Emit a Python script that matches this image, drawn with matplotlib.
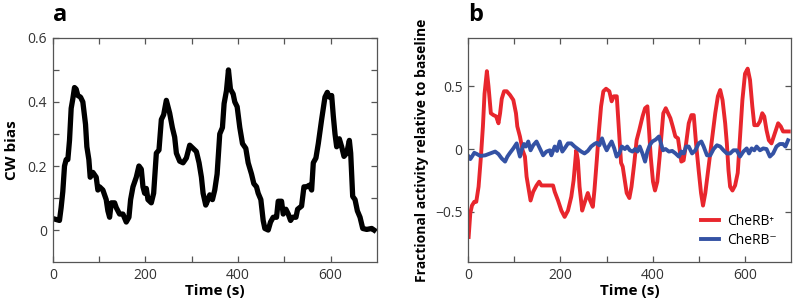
import numpy as np
import matplotlib
matplotlib.use("Agg")
import matplotlib.pyplot as plt

plt.rcParams["font.family"] = ["Open Sans", "DejaVu Sans"]

# ── data ────────────────────────────────────────────────────────────────────
# panel a: CW bias vs time
t_cw = [0, 14.4, 18, 21.6, 25.3, 28.9, 32.5, 36.1, 39.7, 43.3, 46.9, 50.5, 54.1,
        59.9, 64.9, 70.7, 73.6, 77.9, 80.8, 86.6, 93.8, 97.4, 101, 108.2, 115.4,
        119, 122.7, 126.3, 133.5, 137.1, 144.3, 151.5, 158.7, 164.5, 168.1, 173.2,
        180.4, 186.1, 191.2, 194.8, 198.4, 202, 205.6, 212.8, 217.9, 223.7, 229.4,
        234.5, 239.5, 245.3, 252.5, 258.3, 263.3, 267, 274.2, 281.4, 288.6, 295.8,
        303, 310.2, 316, 321.1, 324.7, 330.4, 335.5, 339.1, 344.9, 349.9, 355,
        360.7, 366.5, 370.1, 375.2, 379.5, 383.8, 389.6, 393.2, 398.3, 404, 409.8,
        417, 422.1, 429.3, 434.3, 440.1, 443.7, 449.5, 454.5, 458.1, 465.4, 470.4,
        476.2, 483.4, 487, 494.2, 497.8, 503.6, 508.7, 513.7, 518, 525.3, 528.9,
        537.5, 542.6, 548.3, 554.1, 559.2, 562.8, 568.5, 573.6, 580.8, 588, 593.1,
        597.4, 602.5, 606.1, 609.7, 613.3, 619, 624.1, 629.1, 634.9, 638.5, 640.7,
        643.6, 647.9, 653, 658, 663.8, 669.6, 678.2, 689, 694]
cw_bias = [0.036, 0.03, 0.07, 0.12, 0.2, 0.22, 0.22, 0.28, 0.38, 0.41, 0.445, 0.44,
           0.42, 0.415, 0.40, 0.33, 0.26, 0.22, 0.165, 0.18, 0.165, 0.125, 0.135,
           0.125, 0.095, 0.06, 0.04, 0.085, 0.085, 0.07, 0.05, 0.05, 0.025, 0.04,
           0.095, 0.135, 0.165, 0.2, 0.19, 0.135, 0.115, 0.13, 0.095, 0.085, 0.115,
           0.24, 0.25, 0.345, 0.36, 0.405, 0.365, 0.32, 0.29, 0.24, 0.215, 0.21,
           0.225, 0.265, 0.255, 0.245, 0.21, 0.165, 0.115, 0.078, 0.095, 0.11,
           0.095, 0.125, 0.175, 0.30, 0.32, 0.395, 0.435, 0.5, 0.44, 0.425, 0.40,
           0.385, 0.32, 0.27, 0.255, 0.21, 0.175, 0.145, 0.135, 0.115, 0.095, 0.03,
           0.005, 0.0, 0.025, 0.04, 0.04, 0.09, 0.09, 0.05, 0.065, 0.05, 0.03, 0.04,
           0.04, 0.065, 0.075, 0.135, 0.135, 0.14, 0.125, 0.21, 0.225, 0.27, 0.345,
           0.415, 0.43, 0.415, 0.42, 0.355, 0.30, 0.26, 0.285, 0.26, 0.23, 0.24,
           0.265, 0.28, 0.24, 0.105, 0.095, 0.06, 0.04, 0.005, 0.002, 0.005, 0.0]

# panel b: CheRB+ (red)
t_plus = [1.4, 5, 8.6, 13.6, 17.9, 22.9, 28, 32.3, 35.8, 40.9, 44.4, 49.5, 55.2,
          60.9, 66, 69.5, 73.1, 78.1, 83.9, 91, 98.2, 103.9, 106.8, 112.5, 118.3,
          123.3, 126.9, 130.5, 135.5, 141.2, 148.4, 154.1, 159.1, 169.9, 184.2,
          187.8, 195, 202.2, 209.3, 216.5, 223.7, 228.7, 234.4, 238, 241.6, 247.3,
          252.3, 259.5, 264.5, 270.3, 273.8, 278.9, 283.2, 288.2, 293.2, 299, 306.1,
          311.1, 315.8, 322.2, 326.5, 331.5, 335.1, 340.1, 343.7, 349.5, 354.1,
          360.2, 365.2, 370.9, 378.1, 383.5, 388.5, 392.1, 395.7, 400.7, 405, 410,
          415.1, 419.4, 423, 428.3, 433.3, 438.4, 443.4, 449.1, 454.8, 458.4, 462,
          467, 472.4, 478.1, 483.9, 488.9, 493.9, 499.6, 504.7, 509, 514, 521.1,
          528.3, 535.5, 541.2, 546.2, 551.3, 557, 560.6, 564.2, 567.7, 572.8, 578.5,
          584.2, 589.2, 594.3, 600, 605.7, 610.8, 615.8, 620.1, 627.2, 632.3, 637.3,
          641.6, 646.6, 651.6, 657.3, 664.5, 671.7, 677.4, 682.4, 689.6, 694.6]
act_plus = [-0.70, -0.51, -0.45, -0.42, -0.42, -0.30, -0.06, 0.18, 0.44, 0.62, 0.50,
            0.285, 0.27, 0.26, 0.205, 0.285, 0.40, 0.46, 0.46, 0.43, 0.39, 0.285,
            0.18, 0.10, -0.01, -0.06, -0.22, -0.30, -0.41, -0.34, -0.29, -0.26,
            -0.29, -0.29, -0.29, -0.34, -0.41, -0.49, -0.54, -0.49, -0.38, -0.25,
            -0.01, -0.09, -0.30, -0.49, -0.43, -0.35, -0.41, -0.46, -0.33, -0.09,
            0.125, 0.34, 0.46, 0.48, 0.46, 0.38, 0.42, 0.42, 0.18, -0.11, -0.14,
            -0.26, -0.35, -0.39, -0.30, -0.11, 0.07, 0.15, 0.26, 0.325, 0.34, 0.15,
            -0.06, -0.26, -0.33, -0.26, -0.06, 0.125, 0.285, 0.325, 0.285, 0.245,
            0.18, 0.10, 0.085, -0.01, -0.10, -0.09, 0.045, 0.205, 0.27, 0.27, 0.045,
            -0.17, -0.35, -0.45, -0.35, -0.14, 0.07, 0.285, 0.42, 0.47, 0.39, 0.205,
            0.045, -0.17, -0.30, -0.33, -0.29, -0.19, 0.10, 0.39, 0.60, 0.64, 0.55,
            0.34, 0.19, 0.19, 0.22, 0.285, 0.26, 0.15, 0.07, 0.045, 0.125, 0.205,
            0.18, 0.14, 0.14, 0.14]

# panel b: CheRB- (blue)
t_minus = [1.4, 5, 8.6, 13.6, 19.4, 26.5, 37.3, 48, 58.8, 66, 73.1, 80.3, 85.3, 91,
           98.2, 105.4, 109, 112.5, 116.1, 121.1, 125.4, 130.5, 135.5, 141.2, 148.4,
           155.6, 162.7, 169.9, 177.1, 180.6, 187.8, 192.8, 198.6, 204.3, 209.3,
           216.5, 223.7, 230.8, 238, 245.2, 252.3, 259.5, 266.7, 273.8, 278.9, 284.6,
           290.3, 295.3, 300.4, 306.1, 311.1, 316.8, 321.9, 327.6, 333.3, 339.8,
           344.8, 350.5, 356.3, 362, 367, 372, 377.8, 383.5, 388.5, 393.5, 399.3,
           406.5, 413.6, 417.9, 422.2, 428, 435.1, 442.3, 449.5, 456.6, 462.4, 467.4,
           472.4, 478.1, 485.3, 492.5, 499.6, 505.4, 510.4, 517.6, 524.7, 531.9,
           539.1, 546.2, 553.4, 560.6, 567.7, 574.9, 582.1, 589.2, 596.4, 603.6,
           608.6, 614.3, 620.1, 625.1, 632.3, 639.4, 646.6, 653.8, 660.9, 668.1,
           675.3, 682.4, 687.5, 693.2]
act_minus = [-0.06, -0.08, -0.06, -0.03, -0.04, -0.055, -0.05, -0.035, -0.02, -0.04,
             -0.075, -0.10, -0.06, -0.03, 0.005, 0.045, -0.01, -0.06, -0.01, 0.04,
             0.02, 0.06, -0.01, 0.03, 0.06, 0.005, -0.05, -0.02, -0.01, -0.05, 0.02,
             -0.015, 0.06, -0.02, 0.005, 0.045, 0.045, 0.02, 0.0, -0.02, -0.035,
             -0.015, 0.02, 0.04, 0.05, 0.03, 0.085, 0.03, -0.01, 0.03, 0.06, 0.005,
             -0.06, -0.035, 0.02, 0.0, 0.02, -0.01, -0.02, 0.0, -0.02, 0.02, -0.035,
             -0.10, -0.02, 0.03, 0.06, 0.075, 0.10, 0.045, -0.01, 0.0, -0.02, -0.015,
             -0.035, -0.06, -0.02, -0.035, 0.02, 0.02, -0.035, -0.01, 0.045, 0.06,
             0.02, -0.05, -0.05, 0.0, 0.03, 0.02, -0.01, -0.035, -0.035, -0.01,
             -0.01, -0.06, -0.02, 0.005, -0.035, 0.005, -0.01, 0.02, -0.01, 0.005,
             0.0, -0.06, -0.035, 0.02, 0.04, 0.04, 0.02, 0.07]

legend_labels = ["CheRB\u207a", "CheRB\u207b"]

# ── figure ──────────────────────────────────────────────────────────────────
fig = plt.figure(figsize=(8, 3.03), dpi=100)
ax_a = fig.add_axes([0.066, 0.135, 0.405, 0.74])
ax_b = fig.add_axes([0.585, 0.135, 0.404, 0.74])

spine_col = "#555555"
for ax in (ax_a, ax_b):
    for s in ax.spines.values():
        s.set_color(spine_col)
        s.set_linewidth(0.9)
    ax.tick_params(direction="in", top=True, right=True, length=4.5, width=0.9,
                   color=spine_col, labelsize=10, labelcolor="#333333", pad=4)

# panel a
ax_a.plot(t_cw, cw_bias, color="black", linewidth=3.8, solid_joinstyle="round")
ax_a.set_xlim(0, 700)
ax_a.set_ylim(-0.1, 0.6)
ax_a.set_xticks(np.arange(0, 700, 100))
ax_a.set_xticklabels(["0", "", "200", "", "400", "", "600"])
ax_a.set_yticks(np.arange(0, 0.61, 0.1))
ax_a.set_yticklabels(["0", "", "0.2", "", "0.4", "", "0.6"])
ax_a.set_xlabel("Time (s)", fontsize=11, fontweight="bold", labelpad=1)
ax_a.set_ylabel("CW bias", fontsize=11, fontweight="bold", labelpad=6)

# panel b
ax_b.plot(t_plus, act_plus, color="#e8262d", linewidth=2.8, label=legend_labels[0])
ax_b.plot(t_minus, act_minus, color="#3452a4", linewidth=2.8, label=legend_labels[1])
ax_b.set_xlim(0, 700)
ax_b.set_ylim(-0.9, 0.885)
ax_b.set_xticks(np.arange(0, 700, 100))
ax_b.set_xticklabels(["0", "", "200", "", "400", "", "600"])
ax_b.set_yticks([-0.5, 0, 0.5])
ax_b.set_yticklabels(["\u22120.5", "0", "0.5"])
ax_b.set_xlabel("Time (s)", fontsize=11, fontweight="bold", labelpad=1)
ax_b.set_ylabel("Fractional activity relative to baseline", fontsize=10,
                fontweight="bold", labelpad=4)
ax_b.legend(loc="lower right", frameon=False, fontsize=10, handlelength=1.3,
            handletextpad=0.6, labelspacing=0.3, borderaxespad=0.6)

# panel letters
fig.text(0.066, 1 - 21 / 303, "a", fontsize=17, fontweight="bold",
         ha="left", va="baseline")
fig.text(0.585, 1 - 21 / 303, "b", fontsize=17, fontweight="bold",
         ha="left", va="baseline")

fig.savefig("out.png", dpi=100)
